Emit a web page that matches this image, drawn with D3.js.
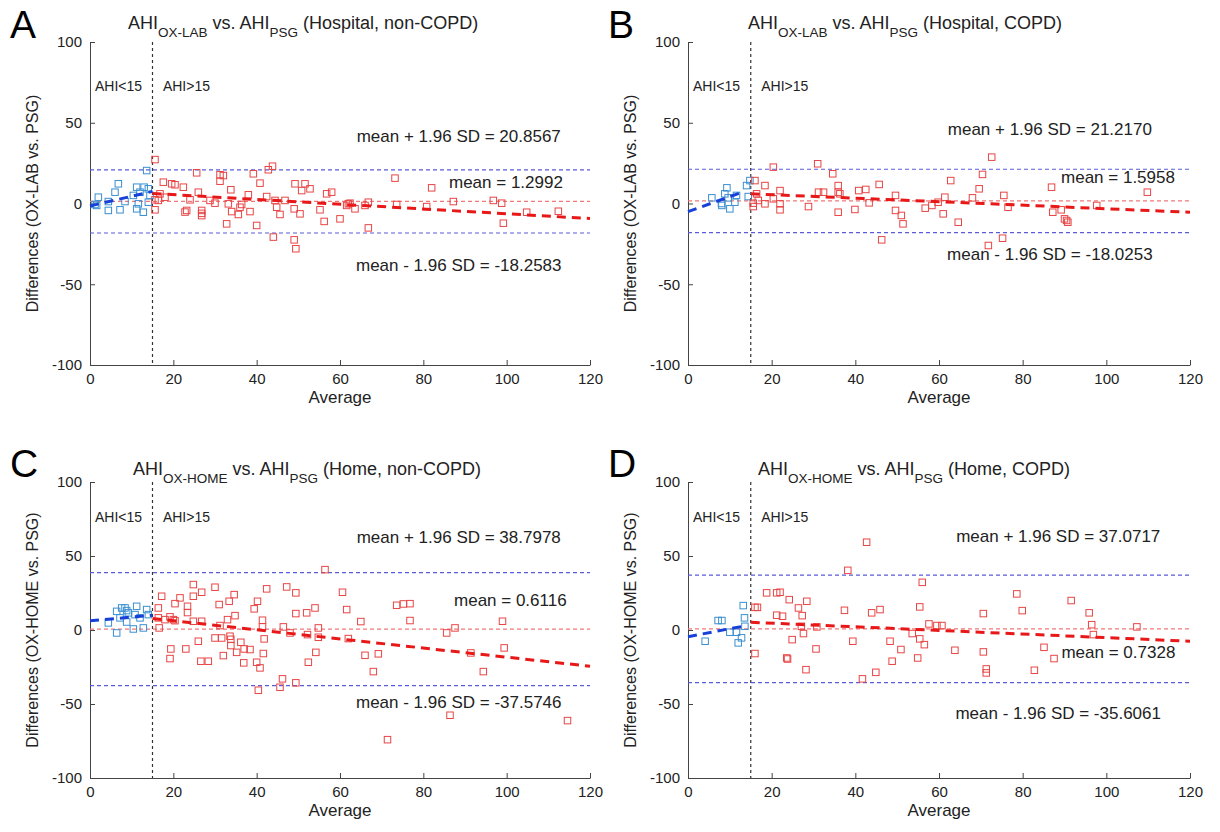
<!DOCTYPE html>
<html><head><meta charset="utf-8">
<script src="https://cdn.jsdelivr.net/npm/d3@7"></script>
<style>body{margin:0;background:#fff} text{font-family:"Liberation Sans",Arial,sans-serif;fill:#222}</style>
</head><body><svg id="c" width="1220" height="832"></svg>
<script>
const xTicks=[0,20,40,60,80,100,120];
const yTicks=[-100,-50,0,50,100];
const cutoff=15;

// Panel A: Hospital, non-COPD
const aBlueAvg=[1.2,1.6,2.0,4.4,4.4,6.0,6.8,7.2,8.4,10.4,11.2,11.2,11.6,12.0,12.8,13.0,13.6,14.0,14.0,14.4];
const aBlueDiff=[-0.6,-1.2,3.9,1.2,-4.3,7.0,12.2,-3.9,1.2,5.0,10.1,-3.3,-0.2,7.0,-5.4,10.1,20.4,9.1,0.8,5.0];
const aRedAvg=[15.6,15.6,15.6,16.8,17.6,18,16.4,19.6,20.4,22.4,23.2,22.8,24,25.6,26,26.8,26.8,26.8,28.8,30,31.2,32,31.2,32.8,33.2,33.8,34,35.6,36,36.4,38,38.4,39.2,40,40.8,42.4,42.8,43.8,44,44.4,44.8,45.6,46.8,49.2,49.0,49.4,49,50.4,50.8,51.6,52.8,55.2,56.2,56.8,58,60,62,62.4,61.6,63.6,66,66.8,66.8,73.2,73.6,80.8,82,87.2,96.8,98.8,99.2,104.8,112.4];
const aRedDiff=[27.2,2.3,-3.9,6.0,13.2,3.9,1.9,12.2,11.6,10.1,-4.3,-5.3,2.3,19.0,7.0,-4.3,-6.1,-7.5,1.9,0.2,17.8,17.3,13.8,-12.6,-0.2,8.5,-5.0,-6.8,-2.3,-0.6,5.4,-5.0,18.4,-13.6,12.6,4.3,20.9,23.1,-20.8,1.9,-2.3,-6.8,1.9,12.2,-22.5,-28,-3.3,-6.4,8.0,12.2,9.1,-3.9,-11.1,6.0,7.0,-9.5,-0.2,0.2,-1.2,-3.3,-1.2,0.8,-15.1,15.7,-0.6,-1.9,9.7,1.2,1.9,0.2,-12.2,-5.4,-4.8];
const aStats=[1.2992,20.8567,-18.2583];
const aBlueFitX=[0,15], aBlueFitY=[-1.5,7.5];
const aRedFitX=[15,120], aRedFitY=[6.2,-9.3];

// Panel B: Hospital, COPD
const bBlueAvg=[5.7,8.0,8.1,8.8,9.3,9.6,10.0,11.2,11.6,14.0,14.8,14.4];
const bBlueDiff=[3.5,0,-1.2,6.0,9.7,3.5,-3.3,0.8,5.0,11.1,14.2,4.3];
const bRedAvg=[16.0,15.6,15.6,16.4,16.8,18.4,18.4,20.4,20.4,22,22,22,28.8,31.0,31.2,32.4,34.6,35.9,35.9,35.9,36.3,39.9,40.8,42.5,43.3,45.7,46.3,49.6,49.6,51.0,51.4,56.7,58.3,59.8,61.0,61.4,62.8,64.6,68.0,69.6,70.4,71.8,72.6,75.2,75.5,76.5,86.9,87.2,89.2,90.0,90.5,90.8,97.7,109.8];
const bRedDiff=[14.2,0.2,-1.9,6.0,1.9,11.1,-0.2,22.5,2.9,8.0,-0.2,-3.9,-1.9,24.6,7.0,7.0,18.4,11.1,7.0,-5.4,6.0,-3.7,8.0,8.7,0.4,11.8,-22.5,5.0,-4.3,-7.4,-12.6,-2.9,-1.2,0.8,-6.4,3.9,14.2,-11.6,3.5,9.1,18.0,-26.0,28.7,-21.5,5.0,-2.3,10.1,-5.4,-3.9,-9.5,-10.5,-11.6,-1.2,7.0];
const bStats=[1.5958,21.2170,-18.0253];
const bBlueFitX=[0,13], bBlueFitY=[-5,7];
const bRedFitX=[15,120], bRedFitY=[6.0,-5.4];

// Panel C: Home, non-COPD
const cBlueAvg=[4.4,6.4,6.4,7.6,8.4,8.8,9.2,8.8,10.4,10.8,11.2,12,12.8,13.6,14,7.2];
const cBlueDiff=[4.8,-2.0,12.6,14.9,14.9,13.1,11.6,5.4,0.7,10.4,16.0,8.2,1.4,13.8,10.4,8.2];
const cRedAvg=[16.4,16.4,16.6,17.2,18,19.2,19.4,19.2,20,20.4,21.6,20.4,23,23.4,23.4,24.8,24.8,24.8,26,26.8,26.8,26.6,28.4,30,30,31,31.2,31.6,32,33,33.4,33.6,33.8,33.8,34.6,34.8,35.2,36.2,37,36.9,38.4,39.4,40,40.2,40.4,40.8,41.4,41.4,41.8,41.6,42.4,46.2,45.6,46.4,47.2,48,49.4,49.4,49.4,52,52.4,52.2,54,54.2,54.8,54.8,56.4,60.6,61.6,62,65,66,69.2,68,71.4,73.6,75.2,76.8,76.8,85.6,87.6,86.4,91.4,94.4,99,99.4,114.6];
const cRedDiff=[14.9,8.2,1.4,22.8,7.0,8.9,-12.8,-19.3,7,17.8,21.7,6.3,-12.8,16.0,11.8,30.7,22.8,5.9,-7.6,25.5,5.9,-21.1,-21.1,28.9,-5.4,17.2,3.0,-5.4,-17.3,7.0,19.4,-4.2,-10.5,-6.3,23.9,9.7,-15.1,-8.3,-12.8,-22.2,-13.2,14.3,-21.8,19.4,-40.7,-25.6,6.6,2.1,-6.0,-15.9,27.8,-33.0,-38.7,2.1,29.1,-2.0,25.1,11.1,-35.7,11.6,-21.8,-3.1,14.9,-15.1,1.4,-4.9,40.8,25.5,13.8,-5.8,5.7,-17.1,-16.1,-28.1,-74.1,16.7,17.6,17.8,6.4,-2.0,1.4,-57.6,-15.5,-28.1,5.9,-12.1,-61.2];
const cStats=[0.6116,38.7978,-37.5746];
const cBlueFitX=[0,15], cBlueFitY=[6.2,10];
const cRedFitX=[15,120], cRedFitY=[7.8,-24.5];

// Panel D: Home, COPD
const dBlueAvg=[4.1,7.2,8.1,10.0,11.6,12.0,12.8,13.2,13.5,13.6];
const dBlueDiff=[-7.6,6.4,6.4,-1.5,-1.5,-8.7,-5.3,16.5,8.2,2.5];
const dRedAvg=[16,16.6,16,18.8,21.2,22,21.2,22.6,23.6,23.8,24.2,24.9,26.4,27.1,27.3,27.6,28.4,28.2,30.6,30.8,37.4,38.2,39.4,41.7,42.7,43.9,44.9,45.9,48.3,48.8,50.9,53.6,54.9,55.4,56,55.4,56.5,57.6,59.5,60.7,63.8,70.6,70.6,71.3,71.3,78.6,79.9,82.8,85.1,87.5,91.6,95.9,96.5,96.9,107.3];
const dRedDiff=[15.3,15.3,-15.9,25.1,25.1,25.5,10.0,9.3,-18.9,-19.6,20.5,-6.5,14.9,2.5,9.7,-2.4,19.4,-26.8,-12.8,2.1,13.3,40.3,-7.6,-33.0,59.3,11.6,-28.6,13.8,-7.6,-21.1,-13.2,-2.4,-18.9,15.6,32.2,-6.0,-9.9,4.1,3.0,3.0,-13.7,11.1,-14.8,-26.3,-29.0,24.4,13.1,-27.2,-11.7,-19.3,19.9,11.6,3.6,-3.1,2.1];
const dStats=[0.7328,37.0717,-35.6061];
const dBlueFitX=[0,14], dBlueFitY=[-4.5,3];
const dRedFitX=[15,120], dRedFitY=[5.2,-7.6];

const svg=d3.select("#c");

const panels=[
 {L:"A",dev:"OX-LAB",setting:"(Hospital, non-COPD)",ylab:"Differences (OX-LAB vs. PSG)",
  box:[90,590,42,365],titleX:128,titleY:29,letter:[10,38],
  bx:aBlueAvg,by:aBlueDiff,rx:aRedAvg,ry:aRedDiff,st:aStats,bfx:aBlueFitX,bfy:aBlueFitY,rfx:aRedFitX,rfy:aRedFitY,
  txt:{up:[88.5,42],mean:[113.5,13],low:[88.5,-38.4],ahi:73}},
 {L:"B",dev:"OX-LAB",setting:"(Hospital, COPD)",ylab:"Differences (OX-LAB vs. PSG)",
  box:[688,1190,42,365],titleX:748,titleY:29,letter:[608,38],
  bx:bBlueAvg,by:bBlueDiff,rx:bRedAvg,ry:bRedDiff,st:bStats,bfx:bBlueFitX,bfy:bBlueFitY,rfx:bRedFitX,rfy:bRedFitY,
  txt:{up:[86.5,46.4],mean:[116.4,16.3],low:[86.5,-31],ahi:73}},
 {L:"C",dev:"OX-HOME",setting:"(Home, non-COPD)",ylab:"Differences (OX-HOME vs. PSG)",
  box:[90,590,482,778],titleX:133,titleY:475,letter:[10,477],
  bx:cBlueAvg,by:cBlueDiff,rx:cRedAvg,ry:cRedDiff,st:cStats,bfx:cBlueFitX,bfy:cBlueFitY,rfx:cRedFitX,rfy:cRedFitY,
  txt:{up:[88.5,63.1],mean:[114.4,20.5],low:[88.5,-48.6],ahi:76.5}},
 {L:"D",dev:"OX-HOME",setting:"(Home, COPD)",ylab:"Differences (OX-HOME vs. PSG)",
  box:[688,1190,482,778],titleX:758,titleY:475,letter:[608,477],
  bx:dBlueAvg,by:dBlueDiff,rx:dRedAvg,ry:dRedDiff,st:dStats,bfx:dBlueFitX,bfy:dBlueFitY,rfx:dRedFitX,rfy:dRedFitY,
  txt:{up:[88.5,63.3],mean:[116.5,-14.8],low:[88.5,-55.8],ahi:76.5}}
];

const axisCol="#444";
const fmt=v=>v.toFixed(4);
panels.forEach(p=>{
  const [x0,x1,y0,y1]=p.box;
  const x=d3.scaleLinear().domain([0,120]).range([x0,x1]);
  const y=d3.scaleLinear().domain([-100,100]).range([y1,y0]);
  const g=svg.append("g");

  g.append("text").attr("x",p.letter[0]).attr("y",p.letter[1]).attr("font-size",39).style("fill","#000").text(p.L);

  const t=g.append("text").attr("x",p.titleX).attr("y",p.titleY).attr("font-size",18);
  t.append("tspan").text("AHI");
  t.append("tspan").attr("font-size",13.5).attr("dy",8).text(p.dev);
  t.append("tspan").attr("dy",-8).text(" vs. AHI");
  t.append("tspan").attr("font-size",13.5).attr("dy",8).text("PSG");
  t.append("tspan").attr("dy",-8).text(" "+p.setting);

  const ya=g.append("g").attr("transform",`translate(${x0},0)`)
    .call(d3.axisLeft(y).tickValues(yTicks).tickFormat(d=>String(d)).tickSizeInner(-5).tickSizeOuter(0).tickPadding(8));
  const xa=g.append("g").attr("transform",`translate(0,${y1})`)
    .call(d3.axisBottom(x).tickValues(xTicks).tickFormat(d=>String(d)).tickSizeInner(-5).tickSizeOuter(0).tickPadding(8));
  [ya,xa].forEach(a=>{
    a.selectAll("path").attr("stroke",axisCol);
    a.selectAll("line").attr("stroke",axisCol);
    a.selectAll("text").attr("font-size",15).style("fill","#222");
  });

  g.append("text").attr("x",(x0+x1)/2).attr("y",y1+38).attr("text-anchor","middle").attr("font-size",17).text("Average");
  g.append("text").attr("transform",`translate(${x0-52},${(y0+y1)/2}) rotate(-90)`).attr("text-anchor","middle").attr("font-size",16).text(p.ylab);

  g.append("line").attr("x1",x(cutoff)).attr("x2",x(cutoff)).attr("y1",y(100)).attr("y2",y(-100))
    .attr("stroke","#333").attr("stroke-width",1.2).attr("stroke-dasharray","3,3");
  g.append("text").attr("x",x(1.2)).attr("y",y(p.txt.ahi)).attr("dy","0.35em").attr("font-size",14).text("AHI<15");
  g.append("text").attr("x",x(17.5)).attr("y",y(p.txt.ahi)).attr("dy","0.35em").attr("font-size",14).text("AHI>15");

  [p.st[1],p.st[2]].forEach(v=>{
    g.append("line").attr("x1",x(0)).attr("x2",x(120)).attr("y1",y(v)).attr("y2",y(v))
      .attr("stroke","#5b5bd8").attr("stroke-width",1.2).attr("stroke-dasharray","4,3");
  });
  g.append("line").attr("x1",x(0)).attr("x2",x(120)).attr("y1",y(p.st[0])).attr("y2",y(p.st[0]))
    .attr("stroke","#f07878").attr("stroke-width",1.2).attr("stroke-dasharray","4,3");

  const s=6.5;
  g.selectAll(".b").data(d3.zip(p.bx,p.by)).join("rect")
    .attr("x",d=>x(d[0])-s/2).attr("y",d=>y(d[1])-s/2).attr("width",s).attr("height",s)
    .attr("fill","none").attr("stroke","#3a8fd0").attr("stroke-width",1);
  g.selectAll(".r").data(d3.zip(p.rx,p.ry)).join("rect")
    .attr("x",d=>x(d[0])-s/2).attr("y",d=>y(d[1])-s/2).attr("width",s).attr("height",s)
    .attr("fill","none").attr("stroke","#e84545").attr("stroke-width",1);

  const line=d3.line().x(d=>x(d[0])).y(d=>y(d[1]));
  g.append("path").attr("d",line(d3.zip(p.bfx,p.bfy))).attr("fill","none")
    .attr("stroke","#1740d8").attr("stroke-width",3).attr("stroke-dasharray","9,6");
  g.append("path").attr("d",line(d3.zip(p.rfx,p.rfy))).attr("fill","none")
    .attr("stroke","#e81818").attr("stroke-width",3).attr("stroke-dasharray","9,6");

  g.append("text").attr("x",x(p.txt.up[0])).attr("y",y(p.txt.up[1])).attr("dy","0.35em").attr("text-anchor","middle").attr("font-size",17)
    .text("mean + 1.96 SD = "+fmt(p.st[1]));
  g.append("text").attr("x",x(p.txt.mean[0])).attr("y",y(p.txt.mean[1])).attr("dy","0.35em").attr("text-anchor","end").attr("font-size",17)
    .text("mean = "+fmt(p.st[0]));
  g.append("text").attr("x",x(p.txt.low[0])).attr("y",y(p.txt.low[1])).attr("dy","0.35em").attr("text-anchor","middle").attr("font-size",17)
    .text("mean - 1.96 SD = "+fmt(p.st[2]));
});
</script></body></html>
